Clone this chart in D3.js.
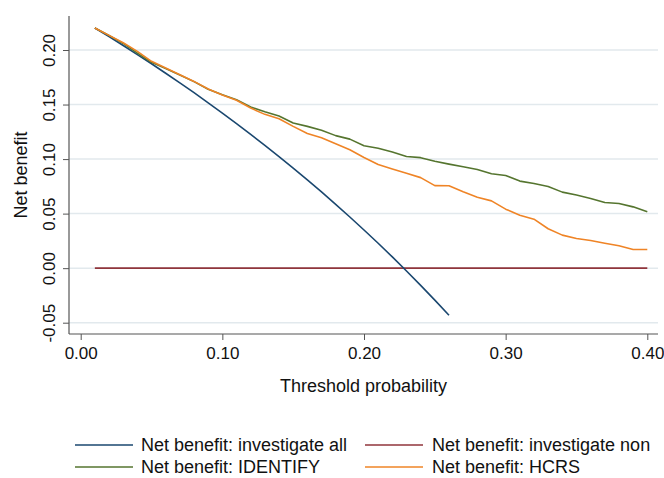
<!DOCTYPE html>
<html>
<head>
<meta charset="utf-8">
<script src="https://cdn.jsdelivr.net/npm/d3@7"></script>
<style>
  body { margin: 0; background: #fff; }
  svg { display: block; font-family: "Liberation Sans", Arial, sans-serif; }
</style>
</head>
<body>
<div id="chart"></div>
<script>
// threshold probabilities 0.01 .. 0.40
var thresholds = [0.01,0.02,0.03,0.04,0.05,0.06,0.07,0.08,0.09,0.10,
                  0.11,0.12,0.13,0.14,0.15,0.16,0.17,0.18,0.19,0.20,
                  0.21,0.22,0.23,0.24,0.25,0.26,0.27,0.28,0.29,0.30,
                  0.31,0.32,0.33,0.34,0.35,0.36,0.37,0.38,0.39,0.40];

// net benefit values
var nbAll = [0.2202,0.2122,0.2041,0.1958,0.1874,0.1787,0.1699,0.1609,0.1516,0.1422,
             0.1326,0.1227,0.1126,0.1023,0.0918,0.0810,0.0699,0.0585,0.0469,0.0350,
             0.0228,0.0103,-0.0026,-0.0158,-0.0293,-0.0432];
var nbNone = [0,0,0,0,0,0,0,0,0,0,0,0,0,0,0,0,0,0,0,0,
              0,0,0,0,0,0,0,0,0,0,0,0,0,0,0,0,0,0,0,0];
var nbIdentify = [0.2202,0.2134,0.2060,0.1972,0.1887,0.1830,0.1770,0.1710,0.1640,0.1590,
                  0.1544,0.1477,0.1434,0.1395,0.1330,0.1300,0.1265,0.1215,0.1183,0.1123,
                  0.1100,0.1065,0.1024,0.1013,0.0980,0.0954,0.0930,0.0905,0.0865,0.0850,
                  0.0798,0.0776,0.0749,0.0697,0.0670,0.0639,0.0602,0.0593,0.0562,0.0517];
var nbHcrs = [0.2202,0.2134,0.2066,0.1987,0.1896,0.1835,0.1773,0.1712,0.1642,0.1588,
              0.1540,0.1468,0.1410,0.1370,0.1300,0.1235,0.1195,0.1140,0.1085,0.1015,
              0.0950,0.0910,0.0870,0.0830,0.0757,0.0755,0.0700,0.0651,0.0617,0.0541,
              0.0486,0.0449,0.0361,0.0303,0.0272,0.0253,0.0229,0.0205,0.0171,0.0171];

var xTicks = [0, 0.1, 0.2, 0.3, 0.4];
var yTicks = [-0.05, 0, 0.05, 0.10, 0.15, 0.20];

var seriesNames = ["Net benefit: investigate all", "Net benefit: investigate non",
                   "Net benefit: IDENTIFY", "Net benefit: HCRS"];
var seriesColors = ["#1a476f", "#90353b", "#55752f", "#ef8426"];
var seriesValues = [nbAll, nbNone, nbIdentify, nbHcrs];

var W = 664, H = 478;
var plot = { left: 69, right: 658, top: 16, bottom: 334 };

var svg = d3.select("#chart").append("svg")
    .attr("width", W)
    .attr("height", H);

var x = d3.scaleLinear().domain([0, 0.4]).range([80.7, 647.3]);
var y = d3.scaleLinear().domain([-0.05, 0.2]).range([322.7, 50]);

// plain hyphen for negatives, like the original
var fmt = function(d) { return d3.format(".2f")(d).replace("\u2212", "-"); };

// gridlines
svg.append("g")
  .selectAll("line")
  .data(yTicks)
  .enter().append("line")
    .attr("x1", plot.left)
    .attr("x2", plot.right)
    .attr("y1", function(d) { return y(d); })
    .attr("y2", function(d) { return y(d); })
    .attr("stroke", "#e2e9ed")
    .attr("stroke-width", 1.5);

// y axis
var yAxis = svg.append("g")
  .attr("transform", "translate(" + plot.left + ",0)")
  .call(d3.axisLeft(y).tickValues(yTicks).tickSize(6).tickSizeOuter(0).tickFormat(fmt));
yAxis.select(".domain").remove();
yAxis.selectAll(".tick line").attr("stroke", "#555");
yAxis.selectAll(".tick text")
  .attr("x", null).attr("dy", null)
  .attr("transform", "translate(-14.5,0) rotate(-90)")
  .attr("text-anchor", "middle")
  .attr("font-size", 17)
  .attr("fill", "#111");

// x axis
var xAxis = svg.append("g")
  .attr("transform", "translate(0," + plot.bottom + ")")
  .call(d3.axisBottom(x).tickValues(xTicks).tickSize(6).tickSizeOuter(0).tickFormat(fmt));
xAxis.select(".domain").remove();
xAxis.selectAll(".tick line").attr("stroke", "#555");
xAxis.selectAll(".tick text")
  .attr("y", 25).attr("dy", null)
  .attr("font-size", 17)
  .attr("fill", "#111");

// axis lines
svg.append("line")
  .attr("x1", plot.left).attr("x2", plot.left)
  .attr("y1", plot.top).attr("y2", plot.bottom)
  .attr("stroke", "#555").attr("stroke-width", 1.2);
svg.append("line")
  .attr("x1", plot.left).attr("x2", plot.right)
  .attr("y1", plot.bottom).attr("y2", plot.bottom)
  .attr("stroke", "#555").attr("stroke-width", 1.2);

// axis titles
svg.append("text")
  .attr("transform", "translate(27," + ((plot.top + plot.bottom) / 2) + ") rotate(-90)")
  .attr("text-anchor", "middle")
  .attr("font-size", 18)
  .attr("fill", "#111")
  .text("Net benefit");
svg.append("text")
  .attr("x", (plot.left + plot.right) / 2)
  .attr("y", 392)
  .attr("text-anchor", "middle")
  .attr("font-size", 18)
  .attr("fill", "#111")
  .text("Threshold probability");

// lines
var line = d3.line()
  .x(function(d, i) { return x(thresholds[i]); })
  .y(function(d) { return y(d); });

[1, 0, 2, 3].forEach(function(k) {
  svg.append("path")
    .datum(seriesValues[k])
    .attr("fill", "none")
    .attr("stroke", seriesColors[k])
    .attr("stroke-width", 1.6)
    .attr("stroke-linejoin", "round")
    .attr("d", line);
});

// legend
var legendPos = [
  { lx: 75, tx: 141, y: 445 },
  { lx: 365, tx: 432, y: 445 },
  { lx: 75, tx: 141, y: 467 },
  { lx: 365, tx: 432, y: 467 }
];
var legend = svg.append("g");
legendPos.forEach(function(p, i) {
  legend.append("line")
    .attr("x1", p.lx).attr("x2", p.lx + 58)
    .attr("y1", p.y).attr("y2", p.y)
    .attr("stroke", seriesColors[i])
    .attr("stroke-width", 1.6);
  legend.append("text")
    .attr("x", p.tx)
    .attr("y", p.y + 6)
    .attr("font-size", 18)
    .attr("fill", "#111")
    .text(seriesNames[i]);
});
</script>
</body>
</html>
